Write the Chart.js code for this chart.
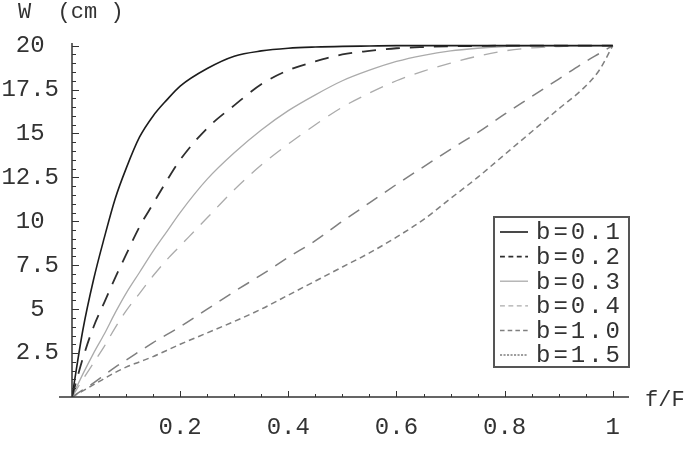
<!DOCTYPE html>
<html>
<head>
<meta charset="utf-8">
<script src="https://cdn.jsdelivr.net/npm/chart.js@4.4.1/dist/chart.umd.min.js"></script>
<style>
  html, body { margin: 0; padding: 0; background: #fff; }
  #wrap { width: 687px; height: 453px; position: relative; }
</style>
</head>
<body>
<div id="wrap"><canvas id="chart"></canvas></div>
<script>
// f/F sample positions and W (cm)
const fracs = [0, 0.02, 0.04, 0.06, 0.08, 0.1, 0.125, 0.15, 0.175, 0.2, 0.25, 0.3, 0.35, 0.4,
  0.45, 0.5, 0.55, 0.6, 0.65, 0.7, 0.75, 0.8, 0.85, 0.9, 0.95, 0.975, 1.0];
const wB01 = [0, 3.8, 6.7, 9.1, 11.3, 13.0, 14.8, 16.0, 16.9, 17.7, 18.7, 19.4, 19.7, 19.85,
  19.92, 19.96, 19.98, 20, 20, 20, 20, 20, 20, 20, 20, 20, 20];
const wB02 = [0, 2.2, 4.0, 5.4, 6.8, 8.1, 9.7, 11.0, 12.3, 13.5, 15.3, 16.6, 17.8, 18.6,
  19.1, 19.5, 19.7, 19.85, 19.92, 19.96, 19.98, 20, 20, 20, 20, 20, 20];
const wB03 = [0, 1.3, 2.5, 3.6, 4.8, 5.9, 7.1, 8.3, 9.4, 10.5, 12.4, 13.9, 15.2, 16.3,
  17.2, 18.0, 18.6, 19.1, 19.45, 19.7, 19.85, 19.95, 20, 20, 20, 20, 20];
const wB04 = [0, 1.0, 1.95, 2.9, 3.95, 4.9, 5.9, 6.9, 7.8, 8.6, 10.2, 11.8, 13.2, 14.4,
  15.5, 16.5, 17.3, 18.0, 18.55, 19.0, 19.4, 19.7, 19.87, 19.95, 20, 20, 20];
const wB10 = [0, 0.4, 0.8, 1.25, 1.7, 2.1, 2.6, 3.1, 3.55, 4.0, 5.0, 6.0, 6.95, 7.95,
  8.9, 10.0, 11.05, 12.1, 13.1, 14.1, 15.05, 16.1, 17.1, 18.1, 19.1, 19.55, 20];
const wB15 = [0, 0.35, 0.7, 1.05, 1.4, 1.7, 2.0, 2.3, 2.65, 3.0, 3.65, 4.3, 5.0, 5.8,
  6.6, 7.4, 8.2, 9.1, 10.1, 11.3, 12.5, 13.8, 15.1, 16.4, 17.7, 18.6, 20];

const seriesLabels = ['b=0.1', 'b=0.2', 'b=0.3', 'b=0.4', 'b=1.0', 'b=1.5'];
const xTicks = [0.2, 0.4, 0.6, 0.8, 1];
const yTicks = [2.5, 5, 7.5, 10, 12.5, 15, 17.5, 20];

const FONT = 'Liberation Mono';

const pts = (ys) => fracs.map((f, i) => ({ x: f, y: ys[i] }));

// axes through the origin with inward ticks, axis names and the boxed legend
const mathAxes = {
    id: 'mathAxes',
    afterDraw(chart) {
        const { ctx, scales: { x, y } } = chart;
        const x0 = x.getPixelForValue(0);
        const y0 = y.getPixelForValue(0);
        ctx.save();
        ctx.strokeStyle = '#333';
        ctx.lineWidth = 1.5;
        ctx.beginPath();
        ctx.moveTo(x.getPixelForValue(-0.024), y0);
        ctx.lineTo(x.getPixelForValue(1.03), y0);
        ctx.moveTo(x0, y0);
        ctx.lineTo(x0, y.getPixelForValue(20.15));
        ctx.stroke();

        ctx.lineWidth = 1;
        ctx.beginPath();
        for (let i = 1; i <= 20; i++) {
            const px = Math.round(x.getPixelForValue(i * 0.05)) + 0.5;
            ctx.moveTo(px, y0);
            ctx.lineTo(px, y0 - (i % 4 === 0 ? 6 : 3));
        }
        for (let i = 1; i <= 40; i++) {
            const py = Math.round(y.getPixelForValue(i * 0.5)) + 0.5;
            ctx.moveTo(x0, py);
            ctx.lineTo(x0 + (i % 5 === 0 ? 7 : 4), py);
        }
        ctx.stroke();

        ctx.fillStyle = '#333';
        ctx.textBaseline = 'middle';
        ctx.textAlign = 'left';
        ctx.font = `22px ${FONT}`;
        ctx.fillText('W  (cm )', 18, 12);
        ctx.fillText('f/F', x.right + 16, y0 + 3);

        // legend
        const lw = 135, lh = 150;
        const lx = chart.chartArea.right - lw;
        const ly = 217;
        ctx.fillStyle = '#fff';
        ctx.fillRect(lx, ly, lw, lh);
        ctx.strokeStyle = '#555';
        ctx.lineWidth = 2;
        ctx.strokeRect(lx, ly, lw, lh);
        ctx.font = `24px ${FONT}`;
        ctx.letterSpacing = '3px';
        chart.data.datasets.forEach((ds, i) => {
            const cy = ly + 15 + i * 24.6;
            ctx.strokeStyle = ds.borderColor;
            ctx.lineWidth = ds.borderWidth;
            ctx.setLineDash(ds.borderDash.map(d => d * 0.35));
            ctx.beginPath();
            ctx.moveTo(lx + 6, cy);
            ctx.lineTo(lx + 34, cy);
            ctx.stroke();
            ctx.setLineDash([]);
            ctx.fillStyle = '#333';
            ctx.fillText(ds.label, lx + 42, cy + 1);
        });
        ctx.restore();
    },
};

const wSeries = [wB01, wB02, wB03, wB04, wB10, wB15];
const colors = ['#1c1c1c', '#2e2e2e', '#ababab', '#ababab', '#7f7f7f', '#7f7f7f'];
const widths = [1.6, 1.8, 1.3, 1.3, 1.5, 1.5];
const dashes = [[], [14, 10], [], [14, 10], [13, 9], [6, 4]];

new Chart(document.getElementById('chart'), {
    type: 'line',
    data: {
        datasets: wSeries.map((ws, i) => ({
            label: seriesLabels[i],
            data: pts(ws),
            borderColor: colors[i],
            borderWidth: widths[i],
            borderDash: dashes[i],
            fill: false,
        })),
    },
    options: {
        responsive: true,
        maintainAspectRatio: false,
        animation: false,
        layout: { padding: { left: 0, right: 58, top: 43, bottom: 0 } },
        elements: {
            point: { radius: 0 },
            line: { cubicInterpolationMode: 'monotone' },
        },
        plugins: {
            legend: { display: false },
            tooltip: { enabled: false },
        },
        scales: {
            x: {
                type: 'linear',
                min: 0,
                max: 1.03,
                grid: { display: false, drawTicks: false },
                border: { display: false },
                afterBuildTicks: (s) => { s.ticks = xTicks.map(v => ({ value: v })); },
                afterFit: (s) => { s.height = 56; },
                ticks: {
                    padding: 16,
                    color: '#333',
                    maxRotation: 0,
                    autoSkip: false,
                    font: { family: FONT, size: 24 },
                    callback: (v) => String(v),
                },
            },
            y: {
                type: 'linear',
                min: 0,
                max: 20.15,
                grid: { display: false, drawTicks: false },
                border: { display: false },
                afterBuildTicks: (s) => { s.ticks = yTicks.map(v => ({ value: v })); },
                afterFit: (s) => { s.width = 72; },
                ticks: {
                    padding: 13,
                    color: '#333',
                    font: { family: FONT, size: 24 },
                    callback: (v) => Number.isInteger(v) ? v + ' ' : String(v),
                },
            },
        },
    },
    plugins: [mathAxes],
});
</script>
</body>
</html>
